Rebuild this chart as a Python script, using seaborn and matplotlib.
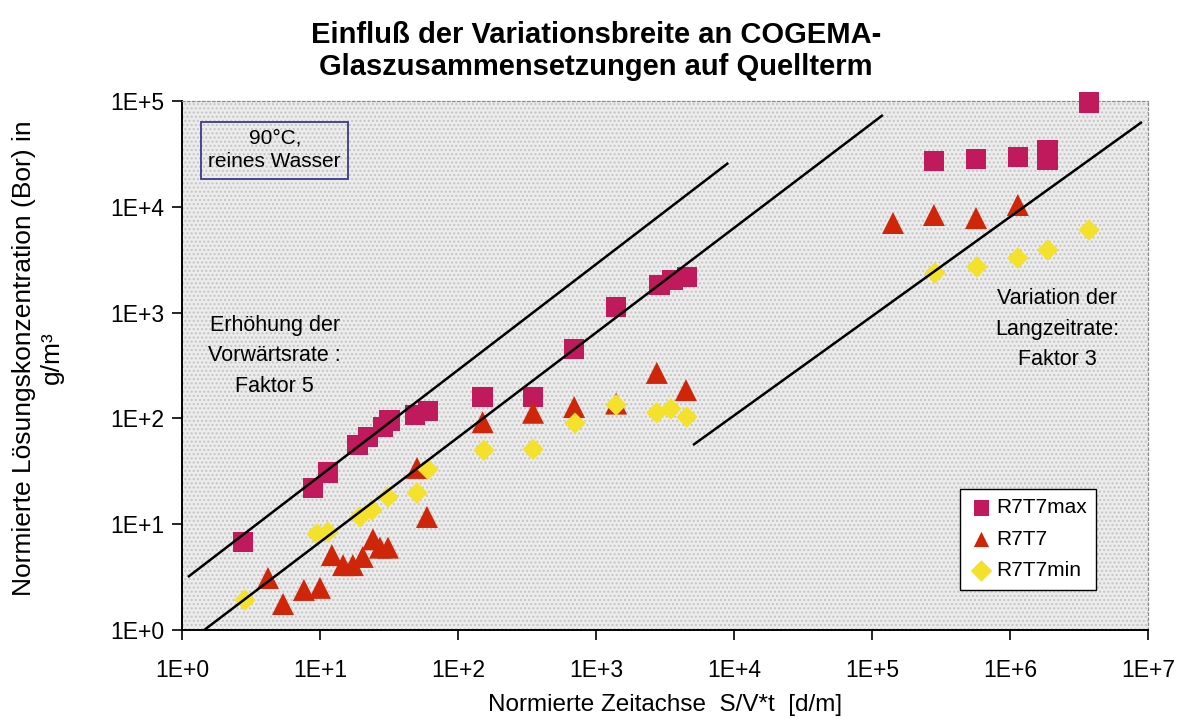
import numpy as np
import pandas as pd
import matplotlib
matplotlib.use("Agg")
import matplotlib.pyplot as plt
import matplotlib.ticker as mticker
from matplotlib.patches import Rectangle
import seaborn as sns

# R7T7max (squares)
max_t = [2.77, 8.9, 11.4, 18.8, 22.3, 28.6, 32, 48.8, 60.6, 151, 350, 695, 1400,
         2900, 3600, 4560, 2.81e5, 5.68e5, 1.14e6, 1.88e6, 1.88e6, 3.74e6]
max_c = [6.8, 22, 31, 56, 67, 83, 95, 108, 117, 159, 159, 453, 1130,
         1820, 2030, 2170, 27100, 28300, 29600, 27600, 34000, 97000]

# R7T7 (triangles)
mid_t = [4.2, 5.4, 7.65, 10, 12.2, 14.7, 17.3, 20.4, 24.2, 27.2, 31.1, 50.5, 59.6,
         151, 350, 695, 1400, 2760, 4490, 1.42e5, 2.81e5, 5.68e5, 1.14e6]
mid_c = [3.1, 1.76, 2.39, 2.5, 5.1, 4.1, 4.1, 4.9, 7.2, 6.0, 6.0, 34, 11.7,
         92, 113, 128, 138, 269, 185, 7030, 8360, 7830, 10400]

# R7T7min (diamonds)
min_t = [2.86, 9.5, 11.4, 19.5, 23.8, 31.1, 50.5, 60.7, 154, 350, 705, 1400,
         2760, 3490, 4560, 2.86e5, 5.77e5, 1.14e6, 1.88e6, 3.74e6]
min_c = [1.92, 8.1, 8.4, 11.7, 13.6, 18.1, 19.7, 33, 50, 51, 90, 134,
         113, 123, 103, 2370, 2700, 3280, 3900, 6030]

# guide lines (start / end points)
line1_t = [1.105, 9100]
line1_c = [3.17, 26000]
line2_t = [1.45, 120000]
line2_c = [1.0, 73800]
line3_t = [5050, 9.05e6]
line3_c = [56, 63400]

decades = [1e0, 1e1, 1e2, 1e3, 1e4, 1e5, 1e6, 1e7]

df = pd.concat([
    pd.DataFrame({"t": max_t, "c": max_c, "serie": "R7T7max"}),
    pd.DataFrame({"t": mid_t, "c": mid_c, "serie": "R7T7"}),
    pd.DataFrame({"t": min_t, "c": min_c, "serie": "R7T7min"}),
])

sns.set_theme(style="white")
plt.rcParams["font.family"] = ["Liberation Sans", "DejaVu Sans"]
plt.rcParams["text.color"] = "black"
plt.rcParams["axes.labelcolor"] = "black"

fig = plt.figure(figsize=(11.87, 7.19), dpi=100)
ax = fig.add_axes([0.1533, 0.1238, 0.8138, 0.7357])

# stippled background
ax.set_facecolor("#ececec")
ax.add_patch(Rectangle((0, 0), 1, 1, transform=ax.transAxes, facecolor="none",
                       edgecolor="#c4c4c4", hatch="....", lw=0, zorder=0))

styles = {
    "R7T7max": dict(marker="s", color="#C01A5C", s=220),
    "R7T7": dict(marker="^", color="#CF260A", s=250),
    "R7T7min": dict(marker="D", color="#F4E12C", s=120),
}
for name, st in styles.items():
    sns.scatterplot(data=df[df["serie"] == name], x="t", y="c", ax=ax,
                    marker=st["marker"], color=st["color"], s=st["s"],
                    edgecolor="none", label=name, zorder=3, clip_on=False)

for lt, lc in [(line1_t, line1_c), (line2_t, line2_c), (line3_t, line3_c)]:
    ax.plot(lt, lc, color="black", lw=1.8, zorder=4, solid_capstyle="butt")

ax.set_xscale("log")
ax.set_yscale("log")
ax.set_xlim(1, 1e7)
ax.set_ylim(1, 1e5)
fmt = mticker.FuncFormatter(lambda v, p: "1E+%d" % round(np.log10(v)))
ax.xaxis.set_major_locator(mticker.FixedLocator(decades))
ax.yaxis.set_major_locator(mticker.FixedLocator(decades[:6]))
ax.xaxis.set_minor_locator(mticker.NullLocator())
ax.yaxis.set_minor_locator(mticker.NullLocator())
ax.xaxis.set_major_formatter(fmt)
ax.yaxis.set_major_formatter(fmt)
ax.tick_params(axis="both", which="major", direction="out", length=7, width=1.2,
               color="black", labelsize=16.5, labelcolor="black", pad=6,
               bottom=True, left=True)
ax.tick_params(axis="x", pad=14)

for side in ["left", "bottom"]:
    ax.spines[side].set_color("black")
    ax.spines[side].set_linewidth(1.4)
for side in ["top", "right"]:
    ax.spines[side].set_color("#8a8a8a")
    ax.spines[side].set_linewidth(0.9)
    ax.spines[side].set_linestyle((0, (2, 2)))

ax.set_xlabel("")
ax.set_ylabel("")
fig.text(0.560, 0.0195, "Normierte Zeitachse  S/V*t  [d/m]", fontsize=17.5,
         ha="center", va="center")
fig.text(0.032, 0.502, "Normierte Lösungskonzentration (Bor) in\ng/m³", fontsize=19,
         ha="center", va="center", rotation=90, linespacing=1.25)

fig.text(0.502, 0.929, "Einfluß der Variationsbreite an COGEMA-\nGlaszusammensetzungen auf Quellterm",
         ha="center", va="center", fontsize=21, fontweight="bold", linespacing=1.2)

ax.text(0.096, 0.907, "90°C,\nreines Wasser", transform=ax.transAxes,
        ha="center", va="center", fontsize=15, linespacing=1.3,
        bbox=dict(boxstyle="square,pad=0.35", facecolor="none",
                  edgecolor="#3a3a8c", linewidth=1.3))
ax.text(0.096, 0.518, "Erhöhung der\nVorwärtsrate :\nFaktor 5", transform=ax.transAxes,
        ha="center", va="center", fontsize=15.5, linespacing=1.6)
ax.text(0.906, 0.569, "Variation der\nLangzeitrate:\nFaktor 3", transform=ax.transAxes,
        ha="center", va="center", fontsize=15.5, linespacing=1.6)

leg = ax.legend(loc="lower left", bbox_to_anchor=(0.805, 0.076), fontsize=15,
                frameon=True, fancybox=False, edgecolor="black", framealpha=1,
                handletextpad=0.1, borderpad=0.45, labelspacing=0.6,
                handlelength=1.2, borderaxespad=0)
leg.get_frame().set_linewidth(1.0)
for h in leg.legend_handles:
    h.set_sizes([120])

fig.savefig("out.png", dpi=100, facecolor="white")
